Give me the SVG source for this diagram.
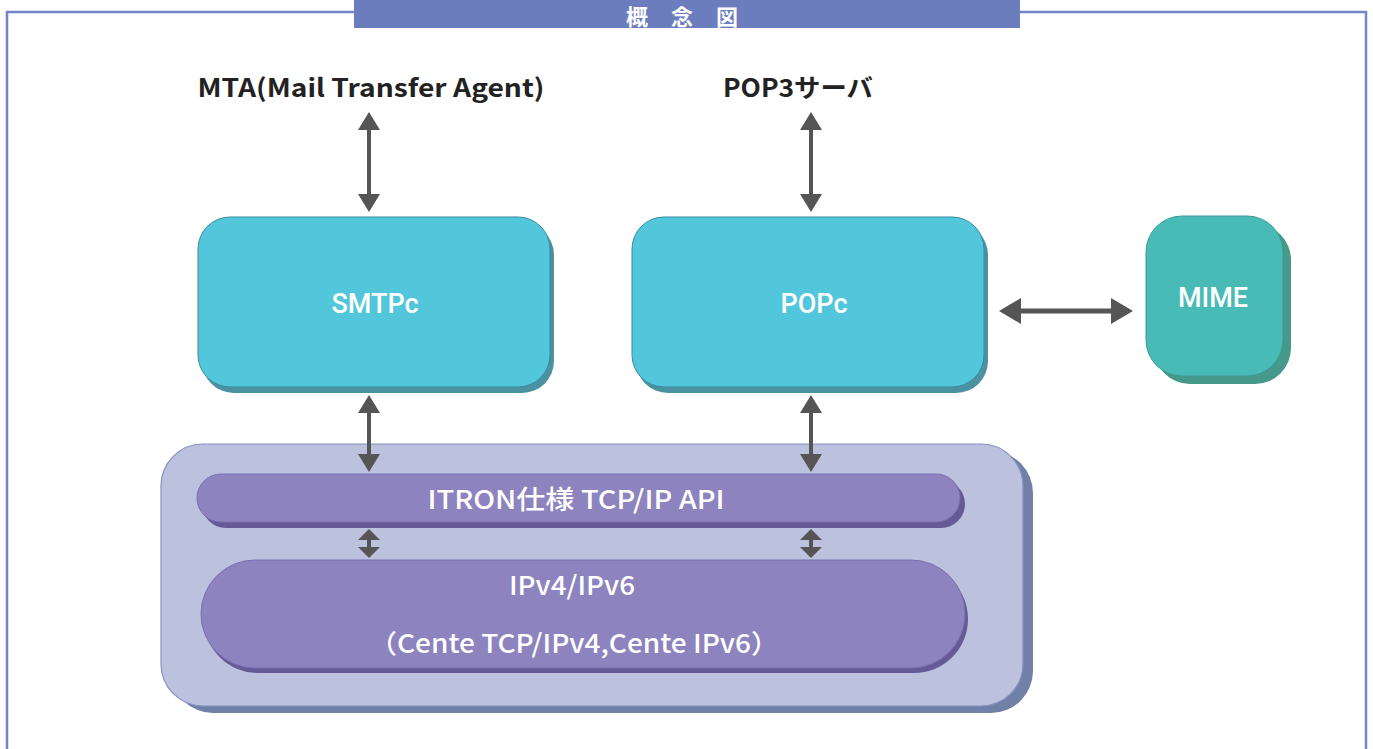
<svg xmlns="http://www.w3.org/2000/svg" width="1373" height="749" viewBox="0 0 1373 749">
<defs>
<style>
.lbl{font-family:"Noto Sans CJK JP","Noto Sans",sans-serif;font-weight:700;fill:#222;font-size:25px}
.nd{font-family:Roboto,"Noto Sans",sans-serif;font-weight:500;fill:#fff;font-size:27px}
.bt{font-family:"Noto Sans CJK JP","Noto Sans",sans-serif;font-weight:500;fill:#fff;font-size:26px}
.cyan{fill:#52c6db;stroke:#3c8a9c;stroke-width:1}
.cyanS{fill:#4a91a1}
.teal{fill:#48bbb6;stroke:#3d9a94;stroke-width:1}
.tealS{fill:#45998b}
.outer{fill:#bcc1de;stroke:#8690c0;stroke-width:1.2}
.outerS{fill:#7080a6}
.bar{fill:#8d83be;stroke:#7a6fb0;stroke-width:1}
.barS{fill:#655a96}
.con{stroke:#555;fill:none}
</style>
<marker id="ah" markerUnits="userSpaceOnUse" markerWidth="18" markerHeight="22" refX="0" refY="11" orient="auto-start-reverse" viewBox="0 0 18 22"><path d="M0,0 L18,11 L0,22 z" fill="#555"/></marker>
<marker id="ahL" markerUnits="userSpaceOnUse" markerWidth="22" markerHeight="26" refX="0" refY="13" orient="auto-start-reverse" viewBox="0 0 22 26"><path d="M0,0 L22,13 L0,26 z" fill="#555"/></marker>
<marker id="ahS" markerUnits="userSpaceOnUse" markerWidth="11" markerHeight="22" refX="0" refY="11" orient="auto-start-reverse" viewBox="0 0 11 22"><path d="M0,0 L11,11 L0,22 z" fill="#555"/></marker>
</defs>
<rect width="1373" height="749" fill="#fff"/>
<g id="frame">
<path d="M7,760 L7,12 L1366,12 L1366,760" fill="none" stroke="#7186c4" stroke-width="2.5"/>
<rect x="354" y="0" width="666" height="28" fill="#6b7dbd"/>
<text x="626" y="25" font-family="'Noto Sans CJK JP',sans-serif" font-weight="700" font-size="22" fill="#fff" letter-spacing="23">概念図</text>
</g>
<g id="mta"><text class="lbl" x="371" y="97" text-anchor="middle" textLength="347" lengthAdjust="spacingAndGlyphs">MTA(Mail Transfer Agent)</text></g>
<g id="pop3"><text class="lbl" x="798" y="97" text-anchor="middle" textLength="150" lengthAdjust="spacingAndGlyphs">POP3サーバ</text></g>
<g id="container">
<rect class="outerS" x="171" y="451" width="862" height="262" rx="42"/>
<rect class="outer" x="161" y="444" width="862" height="262" rx="42"/>
</g>
<g id="smtpc">
<rect class="cyanS" x="202" y="223" width="352" height="170" rx="32"/>
<rect class="cyan" x="198" y="217" width="352" height="170" rx="32"/>
<text class="nd" x="375" y="313" text-anchor="middle">SMTPc</text>
</g>
<g id="popc">
<rect class="cyanS" x="636" y="223" width="352" height="170" rx="32"/>
<rect class="cyan" x="632" y="217" width="352" height="170" rx="32"/>
<text class="nd" x="814" y="313" text-anchor="middle">POPc</text>
</g>
<g id="mime">
<rect class="tealS" x="1154" y="224" width="137" height="160" rx="36"/>
<rect class="teal" x="1146" y="216" width="137" height="160" rx="36"/>
<text class="nd" x="1213" y="307" text-anchor="middle">MIME</text>
</g>
<g id="itron">
<rect class="barS" x="202" y="480" width="763" height="48" rx="24"/>
<rect class="bar" x="197" y="474" width="763" height="48" rx="24"/>
<text class="bt" x="576" y="509" text-anchor="middle" textLength="297" lengthAdjust="spacingAndGlyphs">ITRON仕様 TCP/IP API</text>
</g>
<g id="ipv">
<rect class="barS" x="204" y="565" width="764" height="108" rx="54"/>
<rect class="bar" x="201" y="560" width="764" height="108" rx="54"/>
<text class="bt" x="572" y="595" text-anchor="middle" textLength="126" lengthAdjust="spacingAndGlyphs">IPv4/IPv6</text>
<text class="bt" x="574" y="653" text-anchor="middle" textLength="410" lengthAdjust="spacingAndGlyphs">（Cente TCP/IPv4,Cente IPv6）</text>
</g>
<g id="connectors">
<line class="con" x1="369" y1="130" x2="369" y2="194" stroke-width="4" marker-start="url(#ah)" marker-end="url(#ah)"/>
<line class="con" x1="811" y1="130" x2="811" y2="194" stroke-width="4" marker-start="url(#ah)" marker-end="url(#ah)"/>
<line class="con" x1="369" y1="413" x2="369" y2="454" stroke-width="4" marker-start="url(#ah)" marker-end="url(#ah)"/>
<line class="con" x1="811" y1="413" x2="811" y2="454" stroke-width="4" marker-start="url(#ah)" marker-end="url(#ah)"/>
<line class="con" x1="1021" y1="311" x2="1111" y2="311" stroke-width="5" marker-start="url(#ahL)" marker-end="url(#ahL)"/>
<line class="con" x1="369" y1="540" x2="369" y2="547" stroke-width="4" marker-start="url(#ahS)" marker-end="url(#ahS)"/>
<line class="con" x1="811" y1="540" x2="811" y2="547" stroke-width="4" marker-start="url(#ahS)" marker-end="url(#ahS)"/>
</g>
</svg>
